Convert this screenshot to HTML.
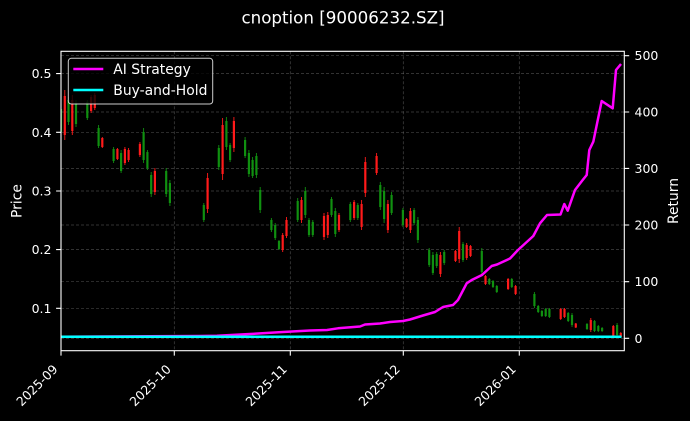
<!DOCTYPE html>
<html><head><meta charset="utf-8"><style>
html,body{margin:0;padding:0;background:#000;}
svg{display:block;}
text{font-family:"DejaVu Sans","Liberation Sans",sans-serif;fill:#fff;}
</style></head><body>
<svg width="690" height="421" viewBox="0 0 690 421" xmlns="http://www.w3.org/2000/svg">
<rect x="0" y="0" width="690" height="421" fill="#000"/>
<defs><clipPath id="pc"><rect x="61" y="51.3" width="563.3" height="299.4"/></clipPath></defs>

<!-- grid -->
<g stroke="#7a7a7a" stroke-opacity="0.55" stroke-width="0.7" stroke-dasharray="3,2" fill="none">
<path d="M174.3 51.3V350.7M290.3 51.3V350.7M403.3 51.3V350.7M519.3 51.3V350.7"/>
<path d="M61 73.6H624.3M61 132.3H624.3M61 191H624.3M61 249.6H624.3M61 308.3H624.3"/>
<path d="M61 55.7H624.3M61 112H624.3M61 168.4H624.3M61 225H624.3M61 281.7H624.3M61 338.3H624.3"/>
</g>

<g clip-path="url(#pc)">
<!-- green wicks -->
<path stroke="#109010" stroke-width="0.9" fill="none" d="M61 105V135M68.5 97V125M76 100V127M87.3 100V120M98.6 125V148M113.6 147V163M121.1 150V173M143.6 128V163M147.4 150V170M151.2 172V197M166.2 168V197M169.9 180V206M203.8 203V222M218.8 145V170M226.4 117V150M230.1 143V162M245.1 137V158M248.9 150V177M252.6 157V178M256.4 153V178M260.2 187V213M271.4 218V232M275.2 223V240M279 240V250M297.7 198V222M305.3 187V218M309 218V237M312.8 220V237M331.5 197V217M335.3 208V237M350.3 202V222M357.8 203V220M380.3 182V210M384.1 187V223M391.6 192V215M402.9 208V227M414.1 208V225M417.9 217V243M429.2 248V267M432.9 252V275M436.7 252V268M444.2 250V265M463 242V262M481.8 248V275M489.3 278V285M493 280V288M496.8 285V293M511.8 278V288M534.4 292V308M538.2 305V313M541.9 310V317M545.7 308V317M549.4 308V318M568.2 312V322M572 313V327M587 323V330M594.5 320V332M598.3 325V332M602.1 327V332M617.1 323V337"/>
<!-- green bodies -->
<path fill="#109010" d="M59.9 109h2.2V132h-2.2zM67.4 100h2.2V122h-2.2zM74.9 103h2.2V124h-2.2zM86.2 102h2.2V118h-2.2zM97.5 128h2.2V146h-2.2zM112.5 149h2.2V161h-2.2zM120 153h2.2V171h-2.2zM142.5 132h2.2V160h-2.2zM146.3 152h2.2V168h-2.2zM150.1 175h2.2V194h-2.2zM165.1 171h2.2V194h-2.2zM168.8 183h2.2V203h-2.2zM202.7 205h2.2V220h-2.2zM217.7 148h2.2V167h-2.2zM225.3 121h2.2V147h-2.2zM229 145h2.2V160h-2.2zM244 140h2.2V156h-2.2zM247.8 153h2.2V174h-2.2zM251.5 160h2.2V176h-2.2zM255.3 156h2.2V175h-2.2zM259.1 190h2.2V210h-2.2zM270.3 220h2.2V230h-2.2zM274.1 225h2.2V238h-2.2zM277.9 241h2.2V249h-2.2zM296.6 201h2.2V220h-2.2zM304.2 191h2.2V215h-2.2zM307.9 220h2.2V235h-2.2zM311.7 222h2.2V235h-2.2zM330.4 199h2.2V215h-2.2zM334.2 211h2.2V234h-2.2zM349.2 204h2.2V220h-2.2zM356.7 205h2.2V218h-2.2zM379.2 185h2.2V207h-2.2zM383 191h2.2V219h-2.2zM390.5 195h2.2V213h-2.2zM401.8 210h2.2V225h-2.2zM413 210h2.2V223h-2.2zM416.8 220h2.2V240h-2.2zM428.1 250h2.2V265h-2.2zM431.8 255h2.2V273h-2.2zM435.6 254h2.2V266h-2.2zM443.1 252h2.2V263h-2.2zM461.9 244h2.2V260h-2.2zM480.7 251h2.2V272h-2.2zM488.2 279h2.2V284h-2.2zM491.9 281h2.2V287h-2.2zM495.7 286h2.2V292h-2.2zM510.7 279h2.2V287h-2.2zM533.3 294h2.2V306h-2.2zM537.1 306h2.2V312h-2.2zM540.8 311h2.2V316h-2.2zM544.6 309h2.2V316h-2.2zM548.3 309h2.2V317h-2.2zM567.1 313h2.2V321h-2.2zM570.9 315h2.2V325h-2.2zM585.9 324h2.2V329h-2.2zM593.4 321h2.2V331h-2.2zM597.2 326h2.2V331h-2.2zM601 328h2.2V331h-2.2zM616 325h2.2V335h-2.2z"/>
<!-- red wicks -->
<path stroke="#ff1a1a" stroke-width="0.9" fill="none" d="M64.8 90V140M72.3 95V135M91.1 95V113M94.8 93V110M102.3 137V148M117.4 148V160M124.9 147V165M128.6 148V162M139.9 142V157M154.9 168V195M207.6 173V213M222.6 118V180M233.9 117V152M282.7 233V252M286.5 217V238M301.5 197V223M324 213V240M327.8 212V238M339 213V232M354.1 200V220M361.6 200V230M365.3 157V197M376.6 153V175M387.9 200V233M406.6 218V228M410.4 208V233M440.4 252V277M455.5 250V262M459.2 227V263M466.7 243V260M470.5 245V257M485.5 275V285M508.1 278V290M515.6 285V295M560.7 308V320M564.5 308V318M575.8 323V328M590.8 318V332M613.3 325V337M620.8 332V338"/>
<!-- red bodies -->
<path fill="#ff1a1a" d="M63.7 96h2.2V135h-2.2zM71.2 100h2.2V131h-2.2zM90 97h2.2V111h-2.2zM93.7 95h2.2V108h-2.2zM101.2 138h2.2V147h-2.2zM116.3 149h2.2V159h-2.2zM123.8 149h2.2V163h-2.2zM127.5 150h2.2V160h-2.2zM138.8 144h2.2V155h-2.2zM153.8 171h2.2V192h-2.2zM206.5 178h2.2V209h-2.2zM221.5 125h2.2V174h-2.2zM232.8 121h2.2V148h-2.2zM281.6 235h2.2V250h-2.2zM285.4 220h2.2V236h-2.2zM300.4 200h2.2V220h-2.2zM322.9 216h2.2V237h-2.2zM326.7 215h2.2V235h-2.2zM337.9 215h2.2V230h-2.2zM353 202h2.2V218h-2.2zM360.5 204h2.2V227h-2.2zM364.2 162h2.2V193h-2.2zM375.5 156h2.2V173h-2.2zM386.8 204h2.2V230h-2.2zM405.5 219h2.2V227h-2.2zM409.3 211h2.2V230h-2.2zM439.3 255h2.2V274h-2.2zM454.4 251h2.2V261h-2.2zM458.1 231h2.2V259h-2.2zM465.6 245h2.2V258h-2.2zM469.4 246h2.2V256h-2.2zM484.4 276h2.2V284h-2.2zM507 279h2.2V289h-2.2zM514.5 286h2.2V294h-2.2zM559.6 309h2.2V319h-2.2zM563.4 309h2.2V317h-2.2zM574.7 323.5h2.2V327.5h-2.2zM589.7 320h2.2V330h-2.2zM612.2 326h2.2V336h-2.2zM619.7 333h2.2V337h-2.2z"/>

<!-- AI Strategy -->
<polyline fill="none" stroke="#ff00ff" stroke-width="2.5" stroke-linejoin="round" points="61,336.7 100,336.5 150,336.3 200,336 217,335.7 250,334 283,332 310,330.5 327,330 338,328.3 360,326.5 365,324.5 380,323.5 390,322 403,321 410,319.5 423,315.5 435,312 443,307 453,305 458,300 466.7,283.3 471.7,280 482,275 491.7,266 497,264.5 510,258.5 518,250 533.3,236 540,223.3 547,215 560.5,214.5 564.3,204 567.7,210.7 575,190 582.7,180 586.7,175 589.3,150 593.3,141.7 601.7,101 612.7,108.3 616,70 621,64"/>
<!-- Buy-and-Hold -->
<line x1="61" y1="336.7" x2="621.5" y2="336.7" stroke="#00ffff" stroke-width="2.5"/>
</g>

<!-- spines -->
<rect x="61" y="51.3" width="563.3" height="299.4" fill="none" stroke="#fff" stroke-width="1.1"/>

<!-- ticks -->
<g stroke="#fff" stroke-width="1.1">
<path d="M56.1 73.6H61M56.1 132.3H61M56.1 191H61M56.1 249.6H61M56.1 308.3H61"/>
<path d="M624.3 55.7H629.2M624.3 112H629.2M624.3 168.4H629.2M624.3 225H629.2M624.3 281.7H629.2M624.3 338.3H629.2"/>
<path d="M61 350.7V355.6M174.3 350.7V355.6M290.3 350.7V355.6M403.3 350.7V355.6M519.3 350.7V355.6"/>
</g>

<!-- left tick labels -->
<g font-size="12.5" text-anchor="end">
<text x="51.5" y="78.1">0.5</text>
<text x="51.5" y="136.8">0.4</text>
<text x="51.5" y="195.5">0.3</text>
<text x="51.5" y="254.1">0.2</text>
<text x="51.5" y="312.8">0.1</text>
</g>
<!-- right tick labels -->
<g font-size="12.5" text-anchor="start">
<text x="634.5" y="60.2">500</text>
<text x="634.5" y="116.5">400</text>
<text x="634.5" y="172.9">300</text>
<text x="634.5" y="229.5">200</text>
<text x="634.5" y="286.2">100</text>
<text x="634.5" y="342.8">0</text>
</g>
<!-- x tick labels -->
<g font-size="12.5" text-anchor="end">
<text x="58.5" y="370" transform="rotate(-45 58.5 370)">2025-09</text>
<text x="171.8" y="370" transform="rotate(-45 171.8 370)">2025-10</text>
<text x="287.8" y="370" transform="rotate(-45 287.8 370)">2025-11</text>
<text x="400.8" y="370" transform="rotate(-45 400.8 370)">2025-12</text>
<text x="516.8" y="370" transform="rotate(-45 516.8 370)">2026-01</text>
</g>

<!-- axis labels -->
<text font-size="13.9" text-anchor="middle" x="21.5" y="201" transform="rotate(-90 21.5 201)">Price</text>
<text font-size="13.9" text-anchor="middle" x="678" y="201" transform="rotate(-90 678 201)">Return</text>

<!-- title -->
<text font-size="16.7" text-anchor="middle" x="343" y="23.5">cnoption [90006232.SZ]</text>

<!-- legend -->
<rect x="68.3" y="58.3" width="144.4" height="45.7" rx="3" ry="3" fill="#000" fill-opacity="0.8" stroke="#fff" stroke-opacity="0.8" stroke-width="1"/>
<line x1="73.3" y1="69" x2="103.3" y2="69" stroke="#ff00ff" stroke-width="2.5"/>
<line x1="73.3" y1="90" x2="103.3" y2="90" stroke="#00ffff" stroke-width="2.5"/>
<text font-size="13.9" x="113.3" y="74">AI Strategy</text>
<text font-size="13.9" x="113.3" y="95">Buy-and-Hold</text>
</svg>
</body></html>
